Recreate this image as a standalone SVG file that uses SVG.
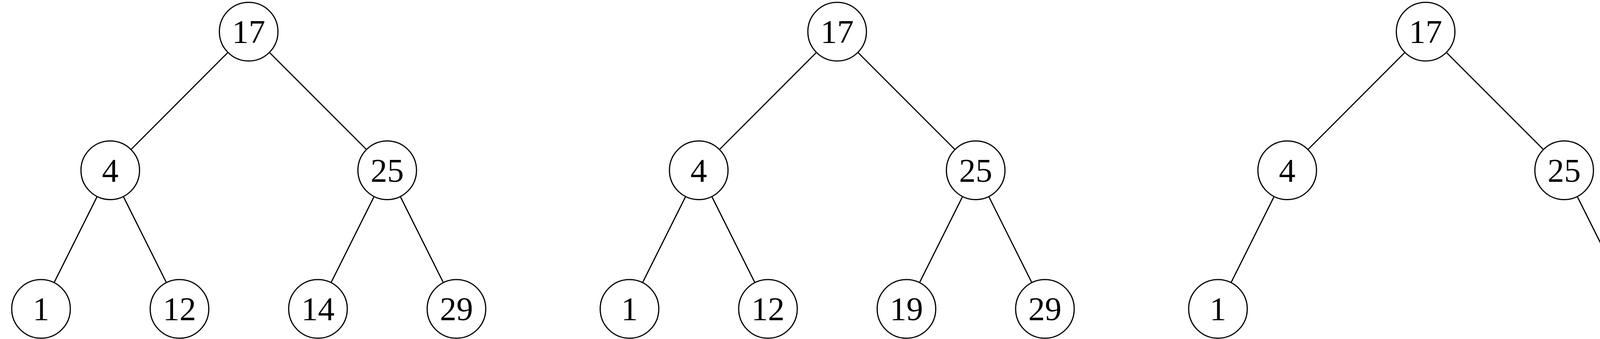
<svg xmlns="http://www.w3.org/2000/svg" width="4267" height="867" viewBox="0 0 4267 867">
<style>
.node circle { fill: #fff; stroke: #000; stroke-width: 3; }
.node text { font-family: "Liberation Serif", "DejaVu Serif", serif; font-size: 85px; text-anchor: middle; fill: #000; }
.edges line { stroke: #000; stroke-width: 3; stroke-linecap: butt; }
</style>
<rect width="4267" height="867" fill="#fff"/>
<g id="connectors" class="edges">
<line x1="583.6" y1="134" x2="335.3" y2="382.5"/>
<line x1="689.6" y1="134" x2="938.2" y2="382.5"/>
<line x1="248.7" y1="502.6" x2="138.5" y2="722.9"/>
<line x1="315.8" y1="502.6" x2="426" y2="722.9"/>
<line x1="957.7" y1="502.6" x2="847.5" y2="722.9"/>
<line x1="1024.8" y1="502.6" x2="1135" y2="722.9"/>
<line x1="2090.1" y1="134" x2="1841.8" y2="382.5"/>
<line x1="2196.1" y1="134" x2="2444.7" y2="382.5"/>
<line x1="1755.2" y1="502.6" x2="1645" y2="722.9"/>
<line x1="1822.3" y1="502.6" x2="1932.5" y2="722.9"/>
<line x1="2464.2" y1="502.6" x2="2354" y2="722.9"/>
<line x1="2531.3" y1="502.6" x2="2641.5" y2="722.9"/>
<line x1="3596.6" y1="134" x2="3348.3" y2="382.5"/>
<line x1="3702.6" y1="134" x2="3951.2" y2="382.5"/>
<line x1="3261.7" y1="502.6" x2="3151.5" y2="722.9"/>
<line x1="4037.8" y1="502.6" x2="4148" y2="722.9"/>
</g>
<g id="t1-n17" class="node"><circle cx="636.6" cy="81" r="75"/><text x="636.6" y="110">17</text></g>
<g id="t1-n4" class="node"><circle cx="282.25" cy="435.5" r="75"/><text x="282.25" y="464.5">4</text></g>
<g id="t1-n25" class="node"><circle cx="991.25" cy="435.5" r="75"/><text x="991.25" y="464.5">25</text></g>
<g id="t1-n1" class="node"><circle cx="105" cy="790" r="75"/><text x="105" y="819">1</text></g>
<g id="t1-n12" class="node"><circle cx="459.5" cy="790" r="75"/><text x="459.5" y="819">12</text></g>
<g id="t1-n14" class="node"><circle cx="814" cy="790" r="75"/><text x="814" y="819">14</text></g>
<g id="t1-n29" class="node"><circle cx="1168.5" cy="790" r="75"/><text x="1168.5" y="819">29</text></g>
<g id="t2-n17" class="node"><circle cx="2143.1" cy="81" r="75"/><text x="2143.1" y="110">17</text></g>
<g id="t2-n4" class="node"><circle cx="1788.75" cy="435.5" r="75"/><text x="1788.75" y="464.5">4</text></g>
<g id="t2-n25" class="node"><circle cx="2497.75" cy="435.5" r="75"/><text x="2497.75" y="464.5">25</text></g>
<g id="t2-n1" class="node"><circle cx="1611.5" cy="790" r="75"/><text x="1611.5" y="819">1</text></g>
<g id="t2-n12" class="node"><circle cx="1966" cy="790" r="75"/><text x="1966" y="819">12</text></g>
<g id="t2-n19" class="node"><circle cx="2320.5" cy="790" r="75"/><text x="2320.5" y="819">19</text></g>
<g id="t2-n29" class="node"><circle cx="2675" cy="790" r="75"/><text x="2675" y="819">29</text></g>
<g id="t3-n17" class="node"><circle cx="3649.6" cy="81" r="75"/><text x="3649.6" y="110">17</text></g>
<g id="t3-n4" class="node"><circle cx="3295.25" cy="435.5" r="75"/><text x="3295.25" y="464.5">4</text></g>
<g id="t3-n25" class="node"><circle cx="4004.25" cy="435.5" r="75"/><text x="4004.25" y="464.5">25</text></g>
<g id="t3-n1" class="node"><circle cx="3118" cy="790" r="75"/><text x="3118" y="819">1</text></g>
<g id="t3-n29" class="node"><circle cx="4181.5" cy="790" r="75"/><text x="4181.5" y="819">29</text></g>
</svg>
